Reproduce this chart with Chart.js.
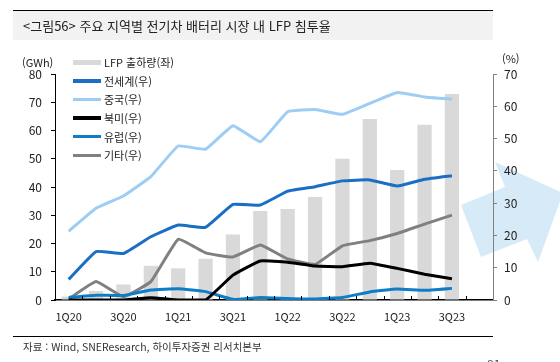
<!DOCTYPE html>
<html lang="ko">
<head>
<meta charset="utf-8">
<title>LFP 침투율</title>
<script src="https://cdn.jsdelivr.net/npm/chart.js@4.4.1/dist/chart.umd.min.js"></script>
<style>
  html, body { margin: 0; padding: 0; background: #fff; }
  #wrap { position: relative; width: 560px; height: 362px; overflow: hidden;
    font-family: 'Noto Sans CJK KR', 'Noto Sans', sans-serif; color: #222; }
  #chart { position: absolute; left: 0; top: 0; }
  .abs { position: absolute; white-space: nowrap; }
  #head { left: 13px; top: 10px; width: 480px; height: 29px; background: #f2f2f2; border-top: 1px solid #000; }
  #head span { position: absolute; left: 10px; top: 0; line-height: 29px; font-size: 13px; }
  #legend { left: 73px; top: 53px; font-size: 11px; }
  #legend .row { display: flex; align-items: center; height: 18.6px; }
  #legend .sw { width: 28px; margin-right: 3px; }
</style>
</head>
<body>
<div id="wrap">
  <canvas id="chart" width="560" height="362"></canvas>
  <div id="head" class="abs"><span>&lt;그림56&gt; 주요 지역별 전기차 배터리 시장 내 LFP 침투율</span></div>
  <div class="abs" style="left:22px; top:55px; font-size:11px; line-height:14px;">(GWh)</div>
  <div class="abs" style="left:502px; top:51px; font-size:11px; line-height:14px;">(%)</div>
  <div id="legend" class="abs"></div>
  <div class="abs" style="left:13px; top:336px; width:480px; border-top:1px solid #000;"></div>
  <div class="abs" style="left:23px; top:340px; font-size:10.5px; line-height:14px; color:#333;">자료 : Wind, SNEResearch, 하이투자증권 리서치본부</div>
  <div class="abs" style="left:487px; top:355px; font-size:12px; color:#444;">81</div>
</div>
<script>
// quarters (4Q23 slot is empty in the source)
var quarters = ['1Q20','2Q20','3Q20','4Q20','1Q21','2Q21','3Q21','4Q21',
                '1Q22','2Q22','3Q22','4Q22','1Q23','2Q23','3Q23','4Q23'];

// LFP shipments, GWh (left axis)
var lfpShipment = [1.2, 3.2, 5.5, 12.1, 11.2, 14.6, 23.2, 31.5, 32.2, 36.5, 50.0, 64.1, 46.0, 62.0, 72.9, null];

// LFP share by region, % (right axis)
var globalShare = [6.4, 15.0, 14.4, 19.6, 23.2, 22.5, 29.6, 29.4, 33.7, 35.1, 36.9, 37.2, 35.3, 37.4, 38.5, null];
var chinaShare  = [21.3, 28.4, 32.2, 38.2, 47.7, 46.7, 54.0, 49.0, 58.3, 59.0, 57.5, 60.9, 64.3, 62.9, 62.2, null];
var usShare     = [0, 0, 0, 0.7, 0, 0, 7.7, 12.1, 11.7, 10.5, 10.3, 11.4, 9.8, 8.0, 6.6, null];
var euShare     = [0.8, 1.5, 1.4, 3.1, 3.5, 2.6, 0.2, 0.8, 0.5, 0.3, 0.8, 2.5, 3.4, 3.0, 3.6, null];
var otherShare  = [0.3, 5.7, 1.0, 5.7, 18.8, 14.6, 13.3, 17.0, 12.7, 11.0, 16.8, 18.4, 20.6, 23.5, 26.3, null];

var leftTicks = [0, 10, 20, 30, 40, 50, 60, 70, 80];
var rightTicks = [0, 10, 20, 30, 40, 50, 60, 70];

var font = "'Noto Sans CJK KR', 'Noto Sans', sans-serif";

function line(label, data, color) {
  return {
    type: 'line', label: label, data: data, yAxisID: 'y1',
    borderColor: color, backgroundColor: color, borderWidth: 3,
    pointRadius: 0, tension: 0.1, order: 1
  };
}

// big decorative arrow at the right side
var arrowPlugin = {
  id: 'arrow',
  beforeDraw: function(chart) {
    var c = chart.ctx;
    c.save();
    c.fillStyle = '#d6eaf8';
    c.beginPath();
    c.moveTo(461, 205);
    c.lineTo(505, 187);
    c.lineTo(495, 162);
    c.lineTo(563, 193);
    c.lineTo(538, 262);
    c.lineTo(527, 239);
    c.lineTo(481, 257);
    c.closePath();
    c.fill();
    c.restore();
  }
};

// small tick marks pointing up from the x axis, at category borders
var innerTicks = {
  id: 'innerTicks',
  afterDraw: function(chart) {
    var x = chart.scales.x;
    var c = chart.ctx;
    var step = (x.right - x.left) / quarters.length;
    c.save();
    c.strokeStyle = '#000';
    c.lineWidth = 1;
    c.beginPath();
    for (var i = 1; i < quarters.length; i++) {
      var px = Math.round(x.left + i * step) + 0.5;
      c.moveTo(px, x.top);
      c.lineTo(px, x.top - 4);
    }
    c.stroke();
    c.restore();
  }
};

var chart = new Chart(document.getElementById('chart'), {
  data: {
    labels: quarters,
    datasets: [
      {
        type: 'bar', label: 'LFP 출하량(좌)', data: lfpShipment, yAxisID: 'y',
        backgroundColor: '#d9d9d9', borderWidth: 0,
        categoryPercentage: 1, barPercentage: 0.52, order: 2
      },
      line('전세계(우)', globalShare, '#1a6ec4'),
      line('중국(우)', chinaShare, '#9dcdf5'),
      line('북미(우)', usShare, '#000000'),
      line('유럽(우)', euShare, '#0e7dc8'),
      line('기타(우)', otherShare, '#808080')
    ]
  },
  options: {
    responsive: false,
    animation: false,
    devicePixelRatio: 1,
    layout: { padding: { top: 74, left: 0, right: 0, bottom: 0 } },
    plugins: { legend: { display: false }, tooltip: { enabled: false } },
    scales: {
      x: {
        offset: true,
        grid: { drawOnChartArea: false, drawTicks: false },
        border: { color: '#000', width: 1.5 },
        ticks: {
          autoSkip: false, maxRotation: 0, padding: 10,
          color: '#222', font: { family: font, size: 11 },
          callback: function(v, i) { return i % 2 === 0 ? quarters[i] : ''; }
        },
        afterFit: function(s) { s.height = 62; }
      },
      y: {
        position: 'left', min: 0, max: 80,
        grid: { drawOnChartArea: false, tickLength: 4, color: '#000' },
        border: { color: '#000', width: 1 },
        afterBuildTicks: function(s) { s.ticks = leftTicks.map(function(v) { return { value: v }; }); },
        ticks: { padding: 9, color: '#222', font: { family: font, size: 12 } },
        afterFit: function(s) { s.width = 55; }
      },
      y1: {
        position: 'right', min: 0, max: 70,
        grid: { drawOnChartArea: false, tickLength: 4, color: '#808080' },
        border: { color: '#808080', width: 1 },
        afterBuildTicks: function(s) { s.ticks = rightTicks.map(function(v) { return { value: v }; }); },
        ticks: { padding: 7, color: '#222', font: { family: font, size: 12 } },
        afterFit: function(s) { s.width = 67; }
      }
    }
  },
  plugins: [arrowPlugin, innerTicks]
});

// html legend built from the datasets
var legend = document.getElementById('legend');
chart.data.datasets.forEach(function(ds) {
  var row = document.createElement('div');
  row.className = 'row';
  var sw = document.createElement('span');
  sw.className = 'sw';
  sw.style.height = ds.type === 'bar' ? '5px' : '3.5px';
  sw.style.background = ds.type === 'bar' ? ds.backgroundColor : ds.borderColor;
  var txt = document.createElement('span');
  txt.textContent = ds.label;
  row.appendChild(sw);
  row.appendChild(txt);
  legend.appendChild(row);
});
</script>
</body>
</html>
